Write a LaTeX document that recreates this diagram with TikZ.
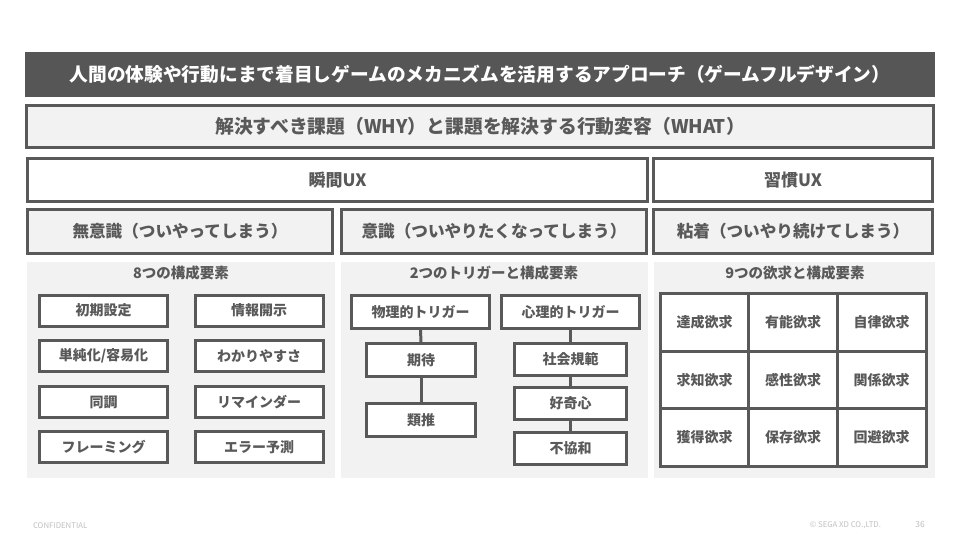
\documentclass[tikz,border=0pt]{standalone}
\usepackage{fontspec}
\setmainfont{Noto Sans CJK JP}
\definecolor{dk}{HTML}{595959}
\definecolor{bar}{HTML}{565656}
\definecolor{lt}{HTML}{F2F2F2}
\definecolor{pn}{HTML}{F2F2F2}
\definecolor{ft}{HTML}{BFBFBF}
\tikzset{
  x=1pt, y=-1pt,
  every node/.style={inner sep=0pt, outer sep=0pt, text=dk, font=\bfseries\fontsize{14}{16}\selectfont},
  band/.style={draw=dk, line width=3pt, fill=lt, font=\bfseries\fontsize{18.8}{20}\selectfont},
  uxbox/.style={draw=dk, line width=3pt, fill=white, font=\bfseries\fontsize{17}{18}\selectfont},
  modebox/.style={draw=dk, line width=3pt, fill=lt, font=\bfseries\fontsize{16.6}{18}\selectfont},
  panel/.style={fill=pn},
  ptitle/.style={font=\bfseries\fontsize{14.5}{16}\selectfont},
  elem/.style={draw=dk, line width=3pt, fill=white},
  cell/.style={draw=dk, line width=3pt, fill=white, minimum width=89pt, minimum height=57.5pt},
  link/.style={draw=dk, line width=3pt},
  foot/.style={text=ft, font=\fontsize{7.8}{9}\selectfont}
}
\begin{document}
\begin{tikzpicture}
\useasboundingbox (0,0) rectangle (960,540);
% top bar
\node[fill=bar, minimum width=910pt, minimum height=45pt, text=white, font=\bfseries\fontsize{18.7}{20}\selectfont] (top) at (480,74.5) {人間の体験や行動にまで着目しゲームのメカニズムを活用するアプローチ（ゲームフルデザイン）};
% why / what
\node[band, minimum width=907pt, minimum height=42pt] (why) at (480,126.5) {解決すべき課題（WHY）と課題を解決する行動変容（WHAT）};
% UX
\node[uxbox, minimum width=620pt, minimum height=43pt] (shunkan) at (337.5,180) {瞬間UX};
\node[uxbox, minimum width=279pt, minimum height=43pt] (shukan) at (793,180) {習慣UX};
% modes
\node[modebox, minimum width=305pt, minimum height=44pt] (muishiki) at (180,231.5) {無意識（ついやってしまう）};
\node[modebox, minimum width=305pt, minimum height=44pt] (ishiki) at (494,231.5) {意識（ついやりたくなってしまう）};
\node[modebox, minimum width=279pt, minimum height=44pt] (nenchaku) at (793,231.5) {粘着（ついやり続けてしまう）};
% panels
\fill[panel] (27,262) rectangle (335,478);
\fill[panel] (341,262) rectangle (648,478);
\fill[panel] (654,262) rectangle (935,478);
\node[ptitle] (t1) at (181,273) {8つの構成要素};
\node[ptitle] (t2) at (494,273) {2つのトリガーと構成要素};
\node[ptitle] (t3) at (795,273) {9つの欲求と構成要素};
% left panel elements
\begin{scope}[every node/.append style={elem, minimum width=128pt, minimum height=31pt}]
\node (e1) at (103.5,310.5) {初期設定};
\node (e2) at (259,310.5) {情報開示};
\node (e3) at (103.5,356) {単純化/容易化};
\node (e4) at (259,356) {わかりやすさ};
\node (e5) at (103.5,402) {同調};
\node (e6) at (259,402) {リマインダー};
\node (e7) at (103.5,447) {フレーミング};
\node (e8) at (259,447) {エラー予測};
\end{scope}
% middle panel
\node[elem, minimum width=138pt, minimum height=33pt] (phys) at (420.5,312) {物理的トリガー};
\node[elem, minimum width=138pt, minimum height=33pt] (psy) at (570.5,312) {心理的トリガー};
\node[elem, minimum width=109pt, minimum height=33pt] (kitai) at (421,360) {期待};
\node[elem, minimum width=109pt, minimum height=33pt] (ruisui) at (421,420) {類推};
\node[elem, minimum width=112pt, minimum height=32pt] (kihan) at (570.5,359.5) {社会規範};
\node[elem, minimum width=112pt, minimum height=32pt] (kouki) at (570.5,403.5) {好奇心};
\node[elem, minimum width=112pt, minimum height=32pt] (fukyo) at (570.5,448) {不協和};
\draw[link] (phys.south) -- (kitai.north);
\draw[link] (kitai.south) -- (ruisui.north);
\draw[link] (psy.south) -- (kihan.north);
\draw[link] (kihan.south) -- (kouki.north);
\draw[link] (kouki.south) -- (fukyo.north);
% right grid
\node[cell] (g11) at (704.5,322.5) {達成欲求};
\node[cell] (g12) at (793,322.5) {有能欲求};
\node[cell] (g13) at (881.5,322.5) {自律欲求};
\node[cell] (g21) at (704.5,380) {求知欲求};
\node[cell] (g22) at (793,380) {感性欲求};
\node[cell] (g23) at (881.5,380) {関係欲求};
\node[cell] (g31) at (704.5,437.5) {獲得欲求};
\node[cell] (g32) at (793,437.5) {保存欲求};
\node[cell] (g33) at (881.5,437.5) {回避欲求};
% footer
\node[foot, anchor=west] (conf) at (33,525.5) {CONFIDENTIAL};
\node[foot, anchor=east] (copy) at (881,525.5) {© SEGA XD CO.,LTD.};
\node[foot, font=\fontsize{8.5}{9}\selectfont] (page) at (920,524.5) {36};
\end{tikzpicture}
\end{document}
